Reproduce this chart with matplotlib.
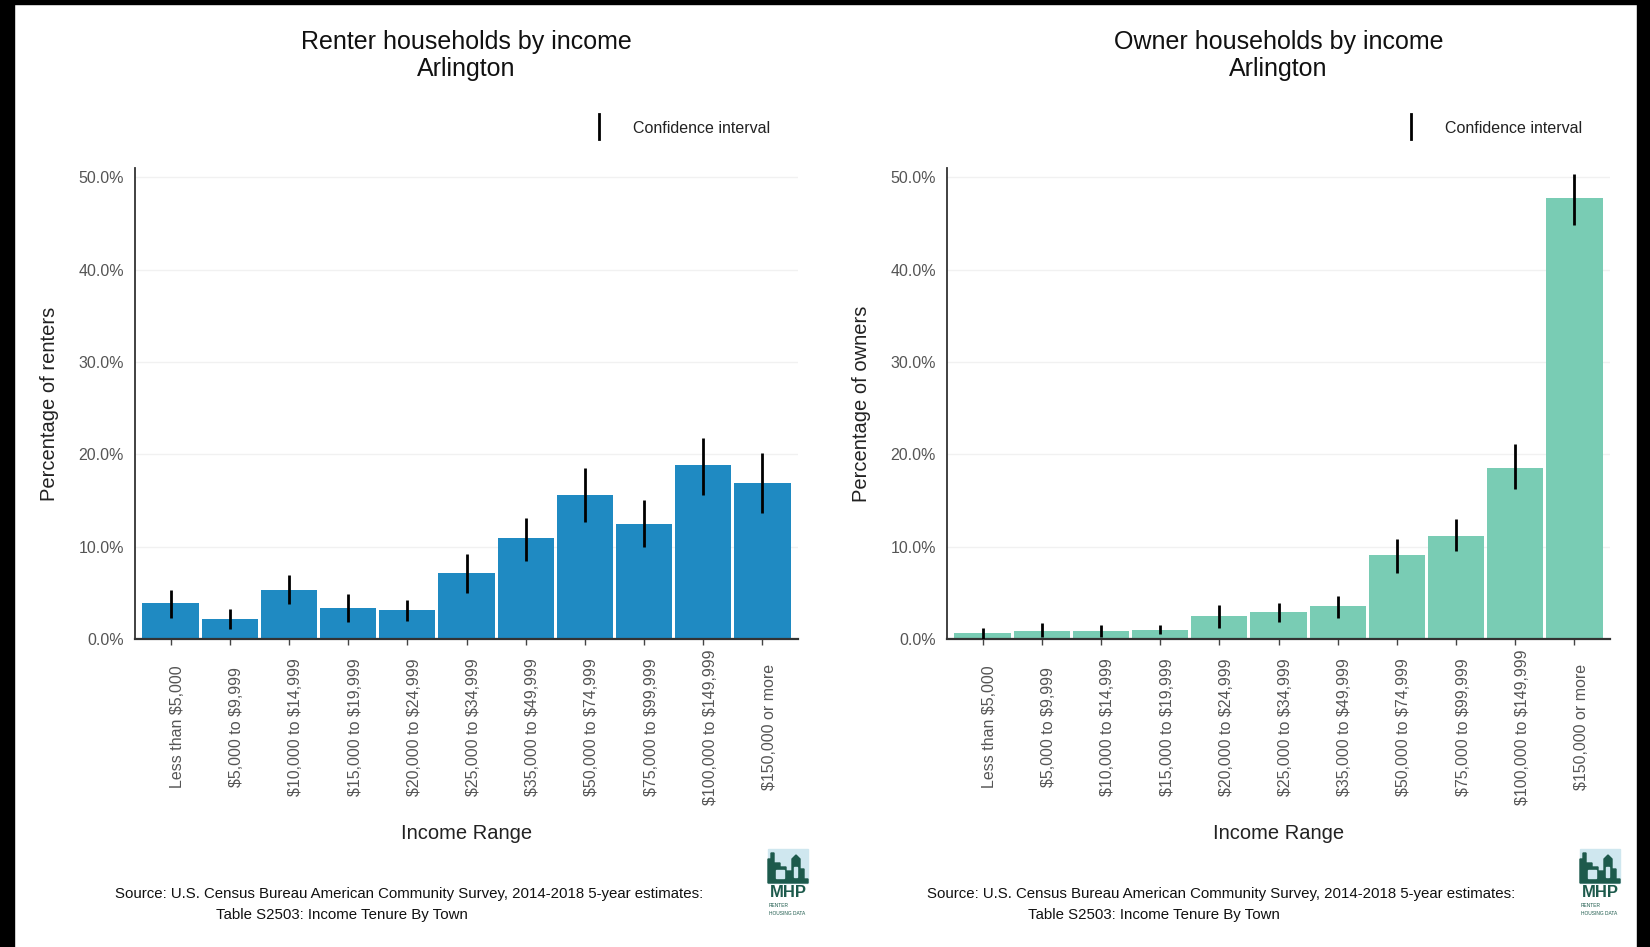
import matplotlib
matplotlib.use("Agg")
import matplotlib.pyplot as plt
import matplotlib.patches as mpatches
from matplotlib.transforms import ScaledTranslation
import numpy as np

plt.rcParams['font.family'] = ['Liberation Sans', 'DejaVu Sans']
plt.rcParams['text.parse_math'] = False

income_ranges = ["Less than $5,000", "$5,000 to $9,999", "$10,000 to $14,999",
                 "$15,000 to $19,999", "$20,000 to $24,999", "$25,000 to $34,999",
                 "$35,000 to $49,999", "$50,000 to $74,999", "$75,000 to $99,999",
                 "$100,000 to $149,999", "$150,000 or more"]

# percent of households, with lower / upper bounds of the confidence interval
renter_pct = [3.9, 2.2, 5.3, 3.4, 3.1, 7.1, 10.9, 15.6, 12.5, 18.8, 16.9]
renter_low = [2.3, 1.1, 3.8, 1.8, 2.0, 5.0, 8.5, 12.7, 10.0, 15.6, 13.6]
renter_high = [5.3, 3.3, 6.9, 4.9, 4.2, 9.2, 13.1, 18.5, 15.0, 21.8, 20.1]

owner_pct = [0.65, 0.85, 0.85, 1.0, 2.5, 2.9, 3.6, 9.1, 11.2, 18.5, 47.7]
owner_low = [0.0, 0.2, 0.2, 0.5, 1.2, 1.8, 2.3, 7.2, 9.5, 16.2, 44.8]
owner_high = [1.2, 1.7, 1.5, 1.5, 3.7, 3.9, 4.7, 10.8, 13.0, 21.1, 50.4]

ytick_vals = [0, 10, 20, 30, 40, 50]

fig = plt.figure(figsize=(16.5, 9.47), dpi=100)
fig.patch.set_facecolor('white')

# black frame on top / left / right edges
for x, y, w, h in [(0, 0, 14 / 1650, 1), (1 - 13 / 1650, 0, 13 / 1650, 1), (0, 1 - 4 / 947, 1, 4 / 947)]:
    fig.patches.append(mpatches.Rectangle((x, y), w, h, transform=fig.transFigure,
                                          color='black', zorder=10))


def draw_logo(x0, y0):
    lax = fig.add_axes([x0 / 1650, 1 - (y0 + 78) / 947, 48 / 1650, 78 / 947])
    lax.set_xlim(0, 48)
    lax.set_ylim(0, 78)
    lax.axis('off')
    lax.add_patch(mpatches.Rectangle((2, 42), 40, 34, color='#cfe7ef'))
    skyline = [(2, 42), (2, 66), (5, 66), (5, 72), (8, 72), (8, 62), (14, 62), (14, 58),
               (20, 58), (20, 54), (26, 54), (26, 66), (30, 70), (34, 66), (34, 56),
               (38, 56), (38, 46), (42, 46), (42, 42)]
    lax.add_patch(mpatches.Polygon(skyline, closed=True, color='#1d5a4c'))
    lax.add_patch(mpatches.Rectangle((10, 47), 8, 8, color='#cfe7ef'))
    lax.add_patch(mpatches.Rectangle((28, 48), 3, 10, color='#cfe7ef'))
    lax.text(22, 33, "MHP", ha='center', va='center', fontsize=12,
             fontweight='bold', color='#1d5a4c')
    lax.text(3, 20, "RENTER", ha='left', va='center', fontsize=3.5, color='#1d5a4c')
    lax.text(3, 12, "HOUSING DATA", ha='left', va='center', fontsize=3.5, color='#1d5a4c')


def draw_panel(left, title, ylabel, pct, low, high, color, logo_x):
    ax = fig.add_axes([left / 1650, 1 - 639 / 947, 663 / 1650, 471 / 947])
    x = np.arange(len(income_ranges))
    for v in ytick_vals[1:]:
        ax.axhline(v, color='#f1f1f1', lw=1, zorder=0)
    ax.bar(x, pct, width=0.95, color=color, zorder=2)
    ax.vlines(x, low, high, color='black', lw=2, zorder=3)
    ax.set_xlim(-0.6, 10.6)
    ax.set_ylim(0, 51)
    ax.set_yticks(ytick_vals)
    ax.set_yticklabels([f"{v:.1f}%" for v in ytick_vals], fontsize=11.5, color='#555555')
    ax.set_xticks(x)
    ax.set_xticklabels([])
    # rotated category names, centred well below the axis, a bit right of each tick
    shift = ScaledTranslation(7 / 100, -88 / 100, fig.dpi_scale_trans)
    for i, lab in zip(x, income_ranges):
        ax.text(i, 0, lab, transform=ax.get_xaxis_transform() + shift, rotation=90,
                ha='center', va='center', fontsize=11.5, color='#555555')
    ax.tick_params(axis='y', length=0, pad=8)
    ax.tick_params(axis='x', length=4, width=1, color='#444444')
    for side in ['top', 'right']:
        ax.spines[side].set_visible(False)
    ax.spines['left'].set_color('#333333')
    ax.spines['bottom'].set_color('#333333')
    ax.spines['left'].set_linewidth(1.3)
    ax.spines['bottom'].set_linewidth(1.6)
    ax.set_ylabel(ylabel, fontsize=14.5, color='#222222', labelpad=14)

    cx = (left + 331.5) / 1650
    fig.text(cx, 1 - 42 / 947, title, ha='center', va='center', fontsize=18, color='#111111')
    fig.text(cx, 1 - 69 / 947, "Arlington", ha='center', va='center', fontsize=18, color='#111111')
    fig.text(cx, 1 - 833 / 947, "Income Range", ha='center', va='center', fontsize=14.5,
             color='#222222')

    # confidence interval key
    kx = left + 464
    fig.add_artist(plt.Line2D([kx / 1650, kx / 1650], [1 - 114 / 947, 1 - 139 / 947],
                              color='black', lw=2, transform=fig.transFigure))
    fig.text((kx + 34) / 1650, 1 - 128 / 947, "Confidence interval", ha='left', va='center',
             fontsize=11.5, color='#222222')

    fig.text((left - 20) / 1650, 1 - 894 / 947,
             "Source: U.S. Census Bureau American Community Survey, 2014-2018 5-year estimates:",
             ha='left', va='center', fontsize=10.8, color='#111111')
    fig.text((left + 81) / 1650, 1 - 915 / 947, "Table S2503: Income Tenure By Town",
             ha='left', va='center', fontsize=10.8, color='#111111')
    draw_logo(logo_x, 847)
    return ax


draw_panel(135, "Renter households by income", "Percentage of renters",
           renter_pct, renter_low, renter_high, '#1f8ac2', 766)
draw_panel(947, "Owner households by income", "Percentage of owners",
           owner_pct, owner_low, owner_high, '#79ccb4', 1578)

fig.savefig("out.png", dpi=100, facecolor='white')
